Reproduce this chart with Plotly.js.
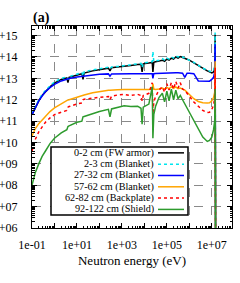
<!DOCTYPE html>
<html>
<head>
<meta charset="utf-8">
<script src="https://cdn.plot.ly/plotly-3.0.1.min.js"></script>
<style>html,body{margin:0;padding:0;background:#fff;}#chart{width:240px;height:283px;}</style>
</head>
<body>
<div id="chart"></div>
<script>
// Neutron energy grid (eV)
const energy = [0.1, 0.141, 0.2, 0.282, 0.398, 0.631, 1, 2, 3.55, 3.98, 4.47, 10, 16.6, 18.6, 20.9, 50.1, 100, 251, 295, 347, 631, 1259, 2512, 5012, 7079, 7943, 8913, 15849, 22387, 23988, 26303, 31623, 44668, 63096, 79433, 1e5, 125893, 158489, 199526, 251189, 316228, 398107, 501187, 630957, 794328, 1e6, 1584893, 2511886, 3981072, 6309573, 7943282, 1e7, 1.2e7, 1.35e7, 1.41e7, 1.48e7];

const seriesNames = ["0-2 cm (FW armor)", "2-3 cm (Blanket)", "27-32 cm (Blanket)", "57-62 cm (Blanket)", "62-82 cm (Backplate)", "92-122 cm (Shield)"];

const fluxFW = [2.0e11, 4.5e11, 8.9e11, 1.6e12, 2.5e12, 4.0e12, 6.0e12, 8.9e12, 1.05e13, 6.3e12, 1.12e13, 1.41e13, 1.66e13, 8.9e12, 1.78e13, 2.24e13, 2.63e13, 3.0e13, 2.24e13, 3.16e13, 3.4e13, 3.6e13, 4.0e13, 4.5e13, 4.6e13, 2.0e13, 4.8e13, 5.2e13, 5.5e13, 2.0e13, 5.6e13, 6.0e13, 6.3e13, 7.1e13, 6.3e13, 7.9e13, 7.1e13, 8.9e13, 7.9e13, 1.0e14, 8.9e13, 1.05e14, 9.5e13, 8.9e13, 7.9e13, 7.1e13, 5.2e13, 4.0e13, 2.8e13, 2.24e13, 2.0e13, 1.78e13, 2.0e13, 3.2e13, 1.12e15, 1e5];

const fluxBlanket23 = [2.2e11, 5.0e11, 1.0e12, 1.8e12, 2.8e12, 4.5e12, 6.8e12, 1.0e13, 1.17e13, 8.9e12, 1.2e13, 1.58e13, 1.86e13, 1.26e13, 2.0e13, 2.5e13, 2.9e13, 3.3e13, 2.8e13, 3.4e13, 3.6e13, 4.0e13, 4.3e13, 4.8e13, 5.0e13, 3.2e13, 5.2e13, 5.8e13, 6.0e13, 1.8e14, 6.3e13, 6.6e13, 7.1e13, 8.3e13, 7.1e13, 8.9e13, 7.9e13, 1.0e14, 8.9e13, 1.12e14, 1.0e14, 1.12e14, 1.0e14, 9.3e13, 8.3e13, 7.4e13, 5.6e13, 4.2e13, 3.0e13, 2.4e13, 2.1e13, 2.0e13, 2.24e13, 4.0e13, 1.41e15, 1e5];

const fluxBlanket2732 = [2.0e11, 4.5e11, 8.9e11, 1.5e12, 2.4e12, 3.7e12, 5.2e12, 7.6e12, 9.3e12, 9.5e12, 9.8e12, 1.17e13, 1.26e13, 1.29e13, 1.32e13, 1.48e13, 1.55e13, 1.62e13, 1.26e13, 1.62e13, 1.66e13, 1.66e13, 1.66e13, 1.66e13, 1.66e13, 1.66e13, 1.66e13, 1.66e13, 1.66e13, 1.0e13, 1.66e13, 1.7e13, 1.74e13, 1.74e13, 1.78e13, 1.78e13, 1.74e13, 1.78e13, 1.78e13, 1.82e13, 1.82e13, 1.78e13, 1.74e13, 1.12e13, 1.74e13, 1.74e13, 1.66e13, 7.6e12, 7.4e12, 7.4e12, 7.4e12, 8.9e12, 1.12e13, 2.0e13, 4.0e14, 1e5];

const fluxBlanket5762 = [2.0e10, 4.5e10, 7.6e10, 1.12e11, 1.78e11, 2.8e11, 4.2e11, 6.6e11, 9.3e11, 9.8e11, 1.0e12, 1.35e12, 1.58e12, 1.62e12, 1.66e12, 2.14e12, 2.45e12, 2.75e12, 2.75e12, 2.82e12, 2.95e12, 3.0e12, 3.0e12, 3.0e12, 3.0e12, 2.82e12, 3.0e12, 3.0e12, 3.16e12, 5.6e12, 3.16e12, 3.0e12, 3.16e12, 3.55e12, 3.16e12, 3.8e12, 3.3e12, 4.0e12, 3.4e12, 4.0e12, 3.3e12, 3.55e12, 3.16e12, 2.82e12, 2.24e12, 1.78e12, 1.12e12, 8.3e11, 7.2e11, 7.1e11, 7.2e11, 8.9e11, 1.26e12, 2.24e12, 6.3e13, 1e5];

const fluxBackplate = [4.0e9, 1.41e10, 3.16e10, 5.6e10, 8.9e10, 1.41e11, 2.0e11, 2.6e11, 3.16e11, 4.5e11, 4.8e11, 6.3e11, 7.1e11, 1.0e12, 1.05e12, 1.2e12, 1.32e12, 1.41e12, 1.0e12, 1.48e12, 1.66e12, 1.78e12, 1.58e12, 1.78e12, 1.58e12, 8.9e11, 1.58e12, 2.0e12, 6.3e12, 2.0e11, 7.9e11, 1.41e12, 2.82e12, 4.0e12, 2.24e12, 5.6e12, 2.82e12, 6.3e12, 3.16e12, 7.1e12, 3.55e12, 6.3e12, 3.16e12, 2.82e12, 2.0e12, 1.41e12, 7.9e11, 5.0e11, 3.16e11, 2.5e11, 2.6e11, 3.55e11, 5.6e11, 1.26e12, 3.16e13, 1e5];

const fluxShield = [1.0e8, 4.0e8, 1.0e9, 2.24e9, 4.0e9, 8.9e9, 1.58e10, 2.8e10, 4.0e10, 5.6e10, 6.0e10, 8.9e10, 1.0e11, 1.58e11, 1.66e11, 2.24e11, 2.8e11, 3.55e11, 1.58e11, 3.7e11, 4.5e11, 5.2e11, 4.8e11, 5.0e11, 4.0e11, 7.1e10, 4.5e11, 6.3e11, 4.0e12, 1.58e10, 2.0e11, 5.0e11, 1.26e12, 2.0e12, 7.9e11, 2.5e12, 8.9e11, 3.16e12, 1.0e12, 2.82e12, 1.12e12, 1.58e12, 1.0e12, 6.3e11, 4.0e11, 2.5e11, 1.0e11, 4.0e10, 1.78e10, 1.12e10, 1.26e10, 1.78e10, 4.0e10, 1.0e11, 3.16e12, 1e5];

const xTickVals = [0.1, 1, 10, 100, 1e3, 1e4, 1e5, 1e6, 1e7];
const xTickText = ["1e-01", "", "1e+01", "", "1e+03", "", "1e+05", "", "1e+07"];
const yTickVals = [1e6, 1e7, 1e8, 1e9, 1e10, 1e11, 1e12, 1e13, 1e14, 1e15];
const yTickText = ["+06", "+07", "+08", "+09", "+10", "+11", "+12", "+13", "+14", "+15"];

const allFlux = [fluxFW, fluxBlanket23, fluxBlanket2732, fluxBlanket5762, fluxBackplate, fluxShield];
const colors = ["#000000", "#00e5ee", "#0000ff", "#ffa500", "#ff0000", "#2e9b2e"];
const dashes = ["solid", "dot", "solid", "solid", "dot", "solid"];

const serif = "Liberation Serif, Times New Roman, serif";

const traces = allFlux.map((f, i) => ({
  x: energy, y: f, type: "scatter", mode: "lines", name: seriesNames[i],
  line: {color: colors[i], width: 1.5, dash: dashes[i]}, showlegend: false, hoverinfo: "skip"
}));

// custom legend (text right-aligned, line sample on the right, like the reference)
const shapes = [{
  type: "rect", xref: "paper", yref: "paper", x0: 0.095, x1: 0.78, y0: 0.064, y1: 0.401,
  fillcolor: "#ffffff", line: {color: "#000", width: 1.5}, layer: "above"
}];
const annotations = [];
const rowY = [0.372, 0.316, 0.260, 0.204, 0.148, 0.092];
seriesNames.forEach((n, i) => {
  annotations.push({xref: "paper", yref: "paper", x: 0.617, y: rowY[i], xanchor: "right", yanchor: "middle",
    text: n, showarrow: false, borderpad: 0, font: {family: serif, size: 10.2, color: "#000"}});
  shapes.push({type: "line", xref: "paper", yref: "paper", x0: 0.63, x1: 0.76, y0: rowY[i], y1: rowY[i],
    line: {color: colors[i], width: 1.5, dash: dashes[i]}, layer: "above"});
});

const axisCommon = {
  showline: true, linecolor: "#000", linewidth: 1, mirror: "ticks",
  ticks: "inside", ticklen: 5, tickcolor: "#000", tickwidth: 1,
  showgrid: true, gridcolor: "#8a8a8a", gridwidth: 1, griddash: "dash",
  zeroline: false, tickmode: "array",
  tickfont: {family: serif, size: 12, color: "#000"},
  minor: {ticks: "inside", ticklen: 2.5, tickcolor: "#000", dtick: "D1", showgrid: false}
};

const layout = {
  width: 240, height: 283,
  margin: {l: 32, r: 8, t: 26, b: 55},
  paper_bgcolor: "#fff", plot_bgcolor: "#fff",
  title: {text: "<b>(a)</b>", x: 33/240, xanchor: "left", xref: "container", y: 1 - 17/283, yanchor: "middle", yref: "container",
    font: {family: serif, size: 14, color: "#000"}},
  xaxis: Object.assign({}, axisCommon, {
    type: "log", range: [-1, 7.9], tickvals: xTickVals, ticktext: xTickText, ticklabelstandoff: 6,
    title: {text: "Neutron energy (eV)", font: {family: serif, size: 13, color: "#000"}, standoff: 4}
  }),
  yaxis: Object.assign({}, axisCommon, {
    type: "log", range: [6, 15.45], tickvals: yTickVals, ticktext: yTickText, ticklabelstandoff: 11
  }),
  shapes: shapes, annotations: annotations
};

Plotly.newPlot("chart", traces, layout, {staticPlot: true, displayModeBar: false});
</script>
</body>
</html>
